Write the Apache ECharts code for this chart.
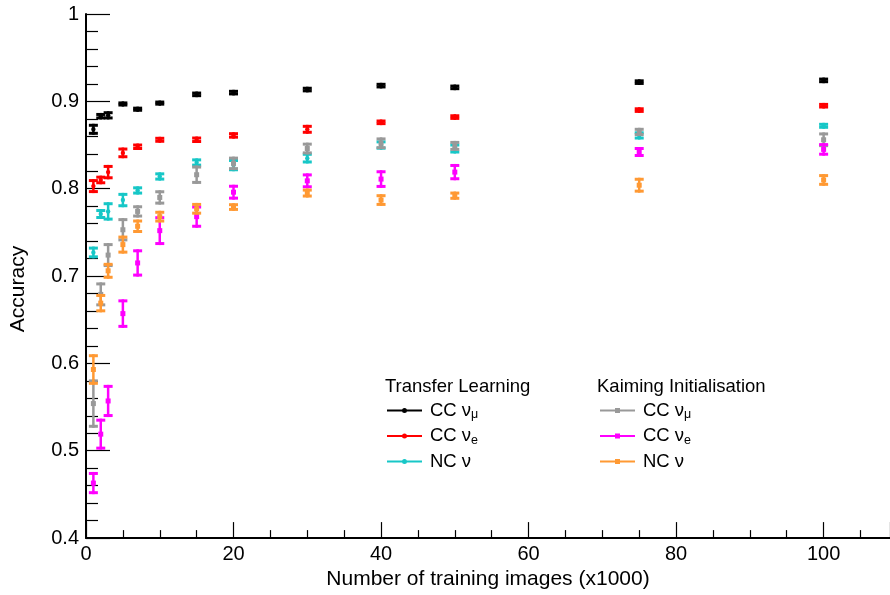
<!DOCTYPE html>
<html><head><meta charset="utf-8">
<script src="https://cdn.jsdelivr.net/npm/echarts@6/dist/echarts.min.js"></script>
<style>html,body{margin:0;padding:0;background:#fff}#c{width:890px;height:595px}</style>
</head><body><div id="c"></div>
<script>
// ---- data ----
const xValues = [1, 2, 3, 5, 7, 10, 15, 20, 30, 40, 50, 75, 100];

const tlNumu    = [0.868, 0.883, 0.884, 0.897, 0.891, 0.898, 0.908, 0.910, 0.9135, 0.918, 0.916, 0.922, 0.924];
const tlNumuErr = [0.0046, 0.002, 0.003, 0.0012, 0.0012, 0.0012, 0.0015, 0.0015, 0.0015, 0.0015, 0.0015, 0.0015, 0.0015];

const tlNue     = [0.803, 0.810, 0.819, 0.841, 0.848, 0.856, 0.856, 0.861, 0.868, 0.876, 0.882, 0.890, 0.895];
const tlNueErr  = [0.0063, 0.0032, 0.0065, 0.0044, 0.002, 0.0017, 0.002, 0.002, 0.0034, 0.0015, 0.0015, 0.0015, 0.0015];

const tlNc      = [0.727, 0.771, 0.774, 0.787, 0.798, 0.814, 0.830, 0.827, 0.835, 0.850, 0.846, 0.861, 0.872];
const tlNcErr   = [0.005, 0.004, 0.0088, 0.0065, 0.003, 0.003, 0.003, 0.0053, 0.0044, 0.0036, 0.004, 0.003, 0.0017];

const kiNumu    = [0.554, 0.679, 0.724, 0.753, 0.774, 0.790, 0.816, 0.829, 0.846, 0.852, 0.849, 0.865, 0.856];
const kiNumuErr = [0.026, 0.012, 0.012, 0.0116, 0.0053, 0.0065, 0.0088, 0.006, 0.005, 0.005, 0.004, 0.003, 0.0067];

const kiNue     = [0.463, 0.519, 0.557, 0.657, 0.715, 0.752, 0.768, 0.796, 0.809, 0.811, 0.819, 0.842, 0.845];
const kiNueErr  = [0.011, 0.016, 0.0167, 0.0146, 0.0139, 0.0148, 0.011, 0.0068, 0.0068, 0.0084, 0.0076, 0.004, 0.0055];

const kiNc      = [0.593, 0.669, 0.706, 0.736, 0.757, 0.768, 0.777, 0.779, 0.795, 0.787, 0.792, 0.804, 0.810];
const kiNcErr   = [0.0158, 0.0088, 0.0074, 0.0086, 0.006, 0.005, 0.005, 0.0027, 0.0034, 0.005, 0.003, 0.0068, 0.005];

const xTitle = 'Number of training images (x1000)';
const yTitle = 'Accuracy';
const groupTitles = ['Transfer Learning', 'Kaiming Initialisation'];

// ---- chart ----
const FONT = "'Liberation Sans', Arial, Helvetica, sans-serif";

const seriesDefs = [
  {id: 'tl_numu', label: ['CC ν', 'μ'], values: tlNumu, errs: tlNumuErr, color: '#000000', marker: 'circle', group: 0},
  {id: 'tl_nue',  label: ['CC ν', 'e'], values: tlNue,  errs: tlNueErr,  color: '#ff0000', marker: 'circle', group: 0},
  {id: 'tl_nc',   label: ['NC ν', ''],  values: tlNc,   errs: tlNcErr,   color: '#17c7c7', marker: 'circle', group: 0},
  {id: 'ki_numu', label: ['CC ν', 'μ'], values: kiNumu, errs: kiNumuErr, color: '#999999', marker: 'square', group: 1},
  {id: 'ki_nue',  label: ['CC ν', 'e'], values: kiNue,  errs: kiNueErr,  color: '#ff00ff', marker: 'square', group: 1},
  {id: 'ki_nc',   label: ['NC ν', ''],  values: kiNc,   errs: kiNcErr,   color: '#ff9933', marker: 'square', group: 1}
];

function makeRender(marker) {
  return function (params, api) {
    const x = api.value(0), y = api.value(1), e = api.value(2);
    const c = api.coord([x, y]);
    const top = api.coord([x, y + e]);
    const bot = api.coord([x, y - e]);
    const color = api.visual('color');
    const hw = 4.5, ct = 3;
    const children = [
      {type: 'line', shape: {x1: c[0], y1: top[1] - ct / 2, x2: c[0], y2: bot[1] + ct / 2}, style: {stroke: color, lineWidth: 2.5}},
      {type: 'rect', shape: {x: c[0] - hw, y: top[1] - ct / 2, width: hw * 2, height: ct}, style: {fill: color}},
      {type: 'rect', shape: {x: c[0] - hw, y: bot[1] - ct / 2, width: hw * 2, height: ct}, style: {fill: color}}
    ];
    if (marker === 'circle') {
      children.push({type: 'circle', shape: {cx: c[0], cy: c[1], r: 2.2}, style: {fill: color}});
    } else {
      children.push({type: 'rect', shape: {x: c[0] - 2.5, y: c[1] - 2.5, width: 5, height: 5}, style: {fill: color}});
    }
    return {type: 'group', children: children};
  };
}

const series = seriesDefs.map(d => ({
  type: 'custom',
  name: d.id,
  renderItem: makeRender(d.marker),
  itemStyle: {color: d.color},
  encode: {x: 0, y: 1},
  data: xValues.map((x, i) => [x, d.values[i], d.errs[i]]),
  z: 2,
  silent: true
}));

const ICON_CIRCLE = 'path://M0,1.5h35v2.2h-35zM15,2.6a2.5,2.5 0 1,1 5,0a2.5,2.5 0 1,1 -5,0z';
const ICON_SQUARE = 'path://M0,1.5h35v2.2h-35zM15,0h5v5.2h-5z';

function legendFor(g, left) {
  const defs = seriesDefs.filter(d => d.group === g);
  return {
    orient: 'vertical',
    left: left,
    top: 401,
    padding: 0,
    itemGap: 5,
    itemWidth: 35,
    itemHeight: 5.2,
    selectedMode: false,
    data: defs.map(d => ({
      name: d.id,
      icon: d.marker === 'circle' ? ICON_CIRCLE : ICON_SQUARE,
      itemStyle: {color: d.color}
    })),
    formatter: function (name) {
      const d = seriesDefs.find(s => s.id === name);
      return '{a|' + d.label[0] + '}' + (d.label[1] ? '{b|' + d.label[1] + '}' : '');
    },
    textStyle: {
      fontFamily: FONT,
      color: '#000',
      rich: {
        a: {fontFamily: FONT, fontSize: 18.5, color: '#000', lineHeight: 22, padding: [0, 0, 0, 3]},
        b: {fontFamily: FONT, fontSize: 12.5, color: '#000', lineHeight: 9, verticalAlign: 'bottom'}
      }
    }
  };
}

const chart = echarts.init(document.getElementById('c'), null, {renderer: 'canvas'});
chart.setOption({
  animation: false,
  backgroundColor: '#ffffff',
  title: [
    {text: groupTitles[0], left: 385, top: 377, padding: 0, textStyle: {fontFamily: FONT, fontSize: 18.5, fontWeight: 'normal', color: '#000'}},
    {text: groupTitles[1], left: 597, top: 377, padding: 0, textStyle: {fontFamily: FONT, fontSize: 18.5, fontWeight: 'normal', color: '#000'}}
  ],
  legend: [legendFor(0, 387), legendFor(1, 600)],
  grid: {left: 84, top: 14, right: 0, bottom: 55, containLabel: false},
  xAxis: {
    type: 'value',
    min: 0, max: 109, interval: 20,
    name: xTitle,
    nameLocation: 'middle',
    nameGap: 30,
    nameTextStyle: {fontFamily: FONT, fontSize: 21, color: '#000'},
    axisLine: {lineStyle: {color: '#000', width: 2}},
    axisTick: {inside: true, length: 16, lineStyle: {color: '#000', width: 1.2}},
    minorTick: {show: true, splitNumber: 4, length: 8, lineStyle: {color: '#000', width: 1.2}},
    axisLabel: {fontFamily: FONT, fontSize: 20, color: '#000', margin: 6, showMaxLabel: false},
    splitLine: {show: false}
  },
  yAxis: {
    type: 'value',
    min: 0.4, max: 1, interval: 0.1,
    name: yTitle,
    nameLocation: 'middle',
    nameRotate: 90,
    nameGap: 57,
    nameTextStyle: {fontFamily: FONT, fontSize: 21, color: '#000', padding: [0, 26, 0, 0]},
    axisLine: {lineStyle: {color: '#000', width: 2}},
    axisTick: {inside: true, length: 24, lineStyle: {color: '#000', width: 1.2}},
    minorTick: {show: true, splitNumber: 5, length: 12, lineStyle: {color: '#000', width: 1.2}},
    axisLabel: {fontFamily: FONT, fontSize: 20, color: '#000', margin: 7},
    splitLine: {show: false}
  },
  series: series
});
</script>
</body></html>
